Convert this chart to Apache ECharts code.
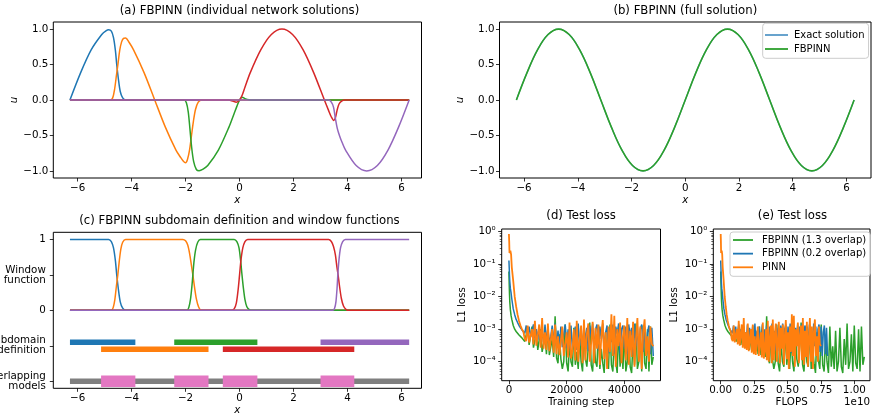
<!DOCTYPE html>
<html><head><meta charset="utf-8">
<script src="https://cdn.jsdelivr.net/npm/echarts@6/dist/echarts.min.js"></script>
<style>html,body{margin:0;padding:0;background:#fff}#c{width:875px;height:416px}</style>
</head><body><div id="c"></div>
<script>
// ---------- (b) full solution ----------
const sineX = [-6.283,-5.890,-5.498,-5.105,-4.712,-4.320,-3.927,-3.534,-3.142,-2.749,-2.356,-1.963,-1.571,-1.178,-0.785,-0.393,0,0.393,0.785,1.178,1.571,1.963,2.356,2.749,3.142,3.534,3.927,4.320,4.712,5.105,5.498,5.890,6.283];
const exactU = [0,0.383,0.707,0.924,1,0.924,0.707,0.383,0,-0.383,-0.707,-0.924,-1,-0.924,-0.707,-0.383,0,0.383,0.707,0.924,1,0.924,0.707,0.383,0,-0.383,-0.707,-0.924,-1,-0.924,-0.707,-0.383,0];
const fbpinnU = [0,0.383,0.707,0.924,1,0.924,0.707,0.383,0,-0.383,-0.707,-0.924,-1,-0.924,-0.707,-0.383,0,0.383,0.707,0.924,1,0.924,0.707,0.383,0,-0.383,-0.707,-0.924,-1,-0.924,-0.707,-0.383,0];

// ---------- (a) individual network solutions [x, u] ----------
const netBlue = [[-6.283,0],[-5.890,0.383],[-5.498,0.707],[-5.105,0.924],[-4.95,0.975],[-4.85,0.99],[-4.75,0.97],[-4.67,0.88],[-4.6,0.7],[-4.55,0.5],[-4.49,0.3],[-4.42,0.12],[-4.33,0.03],[-4.22,0],[6.283,0]];
const netOrange = [[-6.283,0],[-4.78,0],[-4.7,0.03],[-4.63,0.15],[-4.56,0.35],[-4.5,0.52],[-4.44,0.7],[-4.37,0.82],[-4.3,0.87],[-4.22,0.875],[-4.1,0.818],[-3.927,0.707],[-3.534,0.383],[-3.142,0],[-2.749,-0.383],[-2.356,-0.707],[-2.2,-0.8],[-2.08,-0.865],[-2.0,-0.885],[-1.93,-0.84],[-1.85,-0.7],[-1.78,-0.5],[-1.71,-0.3],[-1.63,-0.13],[-1.53,-0.03],[-1.4,0],[6.283,0]];
const netGreen = [[-6.283,0],[-2.05,0],[-1.97,-0.04],[-1.9,-0.17],[-1.84,-0.4],[-1.78,-0.65],[-1.7,-0.87],[-1.6,-0.98],[-1.5,-0.997],[-1.35,-0.975],[-1.178,-0.924],[-0.785,-0.707],[-0.393,-0.383],[-0.2,-0.19],[-0.1,-0.09],[0,0],[0.1,0.04],[0.2,0.02],[0.35,0.003],[0.5,0],[6.283,0]];
const netRed = [[-6.283,0],[-0.4,0],[-0.25,-0.015],[-0.12,-0.03],[0,0],[0.1,0.07],[0.2,0.18],[0.393,0.383],[0.785,0.707],[1.178,0.924],[1.571,1],[1.963,0.924],[2.356,0.707],[2.749,0.383],[3.142,0],[3.3,-0.15],[3.4,-0.24],[3.49,-0.288],[3.55,-0.25],[3.61,-0.15],[3.68,-0.06],[3.78,-0.015],[3.9,0],[6.283,0]];
const netPurple = [[-6.283,0],[3.3,0],[3.4,-0.03],[3.48,-0.1],[3.55,-0.26],[3.62,-0.4],[3.7,-0.5],[3.8,-0.6],[3.927,-0.707],[4.320,-0.924],[4.712,-1],[5.105,-0.924],[5.498,-0.707],[5.890,-0.383],[6.283,0]];

// ---------- (c) window functions [x, w] ----------
const winBlue = [[-6.283,1],[-4.85,1],[-4.75,0.97],[-4.67,0.88],[-4.6,0.7],[-4.55,0.5],[-4.49,0.3],[-4.42,0.12],[-4.33,0.03],[-4.22,0],[6.283,0]];
const winOrange = [[-6.283,0],[-4.75,0],[-4.68,0.04],[-4.62,0.15],[-4.56,0.35],[-4.51,0.5],[-4.46,0.68],[-4.4,0.86],[-4.33,0.96],[-4.22,1],[-2.1,1],[-2.0,0.98],[-1.92,0.92],[-1.85,0.8],[-1.79,0.65],[-1.73,0.5],[-1.67,0.33],[-1.6,0.16],[-1.52,0.05],[-1.42,0],[6.283,0]];
const winGreen = [[-6.283,0],[-1.95,0],[-1.88,0.04],[-1.82,0.15],[-1.77,0.32],[-1.73,0.5],[-1.69,0.68],[-1.63,0.85],[-1.55,0.96],[-1.45,1],[-0.2,1],[-0.1,0.97],[-0.02,0.88],[0.04,0.7],[0.09,0.5],[0.14,0.32],[0.2,0.15],[0.27,0.05],[0.36,0.01],[0.45,0],[6.283,0]];
const winRed = [[-6.283,0],[-0.3,0],[-0.2,0.02],[-0.12,0.1],[-0.05,0.3],[0,0.5],[0.05,0.7],[0.12,0.88],[0.2,0.97],[0.3,1],[3.3,1],[3.4,0.97],[3.48,0.9],[3.55,0.78],[3.61,0.6],[3.65,0.5],[3.7,0.35],[3.77,0.17],[3.85,0.06],[3.95,0.01],[4.05,0],[6.283,0]];
const winPurple = [[-6.283,0],[3.45,0],[3.52,0.03],[3.57,0.12],[3.61,0.3],[3.64,0.5],[3.68,0.7],[3.74,0.88],[3.82,0.97],[3.92,1],[6.283,1]];
const subdomains = [[-6.283,-3.86],[-5.13,-1.15],[-2.42,0.66],[-0.62,4.25],[3.0,6.283]];
const overlaps = [[-5.13,-3.86],[-2.42,-1.15],[-0.62,0.66],[3.0,4.25]];
const fullDomain = [-6.283,6.283];

// ---------- (d)/(e) test loss ----------
const steps = [0,100,200,300,500,750,1000,1500,2000,2500,3000,3500,4000,4500,5000,
5500,6000,6500,7000,7500,8000,8500,9000,9500,10000,
10500,11000,11500,12000,12500,13000,13500,14000,14500,15000,
15500,16000,16500,17000,17500,18000,18500,19000,19500,20000,
20500,21000,21500,22000,22500,23000,23500,24000,24500,25000,
25500,26000,26500,27000,27500,28000,28500,29000,29500,30000,
30500,31000,31500,32000,32500,33000,33500,34000,34500,35000,
35500,36000,36500,37000,37500,38000,38500,39000,39500,40000,
40500,41000,41500,42000,42500,43000,43500,44000,44500,45000,
45500,46000,46500,47000,47500,48000,48500,49000,49500,50000];
const lossFbpinn13 = [0.06,0.025,0.012,0.007,0.004,0.0026,0.002,0.0013,0.001,0.00085,0.00075,0.00066,0.0006,0.00054,0.00048,
4.2e-4,3.8e-4,1.1e-3,3.3e-4,3.0e-4,1.2e-3,2.7e-4,2.5e-4,8e-4,2.3e-4,
2.2e-4,1.0e-3,2.0e-4,1.9e-4,6e-4,1.7e-4,1.2e-3,1.6e-4,1.5e-4,5e-4,
1.4e-4,2.5e-3,1.3e-4,9e-5,7e-4,1.2e-4,6e-5,1.0e-4,1.4e-3,9e-5,
5e-5,4e-4,1.0e-4,7e-5,1.1e-3,8e-5,2.0e-4,6e-5,6e-4,1.0e-4,
5e-5,9e-4,1.2e-4,7e-5,3e-4,1.6e-3,8e-5,5e-5,5e-4,1.0e-4,
7e-5,1.3e-3,6e-5,2.5e-4,9e-5,4.5e-5,8e-4,1.1e-4,6e-5,1.4e-3,
8e-5,5e-5,6e-4,1.0e-4,4.5e-5,1.2e-3,7e-5,3e-4,6e-5,9e-4,
5e-5,1.0e-4,1.1e-3,7e-5,4.5e-5,5e-4,8e-5,1.5e-3,6e-5,1.0e-4,
7e-4,5e-5,1.3e-3,9e-5,6e-5,1.0e-3,5e-5,1.2e-3,8e-5,1.4e-4];
const lossFbpinn02 = [0.13,0.08,0.045,0.03,0.018,0.013,0.0085,0.0042,0.0028,0.002,0.0016,0.0013,0.0011,0.00095,0.00085,
7.5e-4,1.3e-3,6.5e-4,1.2e-3,5.8e-4,6e-4,1.4e-3,5.2e-4,1.0e-3,4.8e-4,
1.3e-3,4.4e-4,8e-4,4.1e-4,1.4e-3,3.8e-4,1.1e-3,3.6e-4,6e-4,1.3e-3,
3.3e-4,1.5e-3,3.1e-4,9e-4,2.9e-4,1.2e-3,2.8e-4,7e-4,1.4e-3,2.6e-4,
1.0e-3,2.5e-4,1.3e-3,2.4e-4,6e-4,1.2e-3,2.3e-4,1.5e-3,3e-4,9e-4,
2.2e-4,1.4e-3,4e-4,1.1e-3,2.1e-4,1.3e-3,6e-4,1.5e-3,2.0e-4,1.0e-3,
1.4e-3,2.2e-4,1.2e-3,5e-4,1.5e-3,1.9e-4,8e-4,1.3e-3,1.8e-4,1.1e-3,
4e-4,1.4e-3,1.8e-4,1.2e-3,7e-4,1.5e-3,1.7e-4,1.0e-3,1.3e-3,2.5e-4,
1.2e-3,1.7e-4,1.4e-3,6e-4,1.1e-3,1.6e-4,1.5e-3,3e-4,1.2e-3,1.6e-4,
1.0e-3,1.4e-3,2e-4,1.2e-3,1.5e-4,8e-4,1.3e-3,1.7e-4,1.1e-3,1.5e-4];
const lossPinn = [0.85,0.5,0.22,0.2,0.26,0.2,0.08,0.03,0.01,0.005,0.0028,0.0018,0.0013,0.001,0.00085,
5e-4,4.3e-4,1.3e-3,3.9e-4,3.7e-4,1.0e-3,3.4e-4,1.8e-3,3.1e-4,3.0e-4,
1.4e-3,2.7e-4,2.2e-3,2.5e-4,8e-4,2.3e-4,1.5e-3,2.1e-4,2.0e-4,1.0e-3,
1.9e-4,1.4e-3,1.7e-4,6e-4,1.6e-4,1.55e-4,1.2e-3,1.5e-4,1.45e-4,8e-4,
1.35e-4,1.6e-3,1.25e-4,2.2e-4,1.0e-3,1.1e-4,1.8e-3,1.0e-4,5e-4,1.3e-3,
9e-5,2.0e-3,1.1e-4,7e-4,1.5e-3,1.0e-4,4e-4,1.7e-3,9e-5,1.1e-3,
2.5e-4,1.4e-3,8e-5,6e-4,1.9e-3,1.2e-4,8e-4,6e-5,1.2e-3,2.0e-4,
2.9e-3,1.5e-4,2.6e-3,7e-5,1.0e-3,3e-4,1.6e-3,9e-5,6e-4,1.3e-3,
1.1e-4,2.2e-3,8e-5,9e-4,1.4e-4,1.7e-3,7e-5,5e-4,2.2e-3,1.0e-4,
1.2e-3,6e-5,8e-4,2.0e-3,1.5e-4,6e-4,1.0e-4,1.2e-3,3.5e-4,3.0e-4];
const totalSteps = 50000;
const finalFlops = {fb13: 1.075e10, fb02: 0.80e10, pinn: 0.75e10};

[lossFbpinn13, lossFbpinn02, lossPinn].forEach((a, i) => { if (a.length !== steps.length) throw new Error('length mismatch ' + i + ': ' + a.length); });

// ---------- styling ----------
const F = 'DejaVu Sans';
const FS = 10.3;
const C = {blue:'#1f77b4', orange:'#ff7f0e', green:'#2ca02c', red:'#d62728', purple:'#9467bd', gray:'#7f7f7f', pink:'#e377c2'};
const minus = s => String(s).replace('-', '\u2212');
const grids = [
  {left:53.3, top:22, width:368.2, height:156},
  {left:499.5, top:22, width:371.5, height:156},
  {left:53.3, top:232.3, width:368.2, height:156},
  {left:501.7, top:229, width:158.8, height:151.7},
  {left:713.3, top:229, width:156.7, height:151.7}
].map(g => Object.assign(g, {show:true, borderColor:'#000', borderWidth:1, backgroundColor:'transparent', containLabel:false, outerBoundsMode:'none'}));

function ax(opt) {
  return Object.assign({
    type:'value', scale:false,
    axisLine:{show:false, onZero:false}, splitLine:{show:false},
    axisTick:{show:true, inside:false, length:3.5, lineStyle:{color:'#000', width:0.8}, customValues: opt.ticks},
    axisLabel:{show:true, customValues: opt.ticks, formatter: opt.fmt, color:'#000', fontSize:FS, fontFamily:F, margin: opt.margin != null ? opt.margin : 5},
    nameLocation:'middle', nameTextStyle:{color:'#000', fontSize:FS, fontFamily:F, fontStyle: opt.italic ? 'italic' : 'normal'}
  }, opt.extra);
}
const xTicksPi = [-6,-4,-2,0,2,4,6];
const uTicks = [-1,-0.5,0,0.5,1];
const logTicks = [-4,-3,-2,-1,0];
const sup = {'-':'\u207B','0':'\u2070','1':'\u00B9','2':'\u00B2','3':'\u00B3','4':'\u2074'};
const logFmt = v => '10' + String(Math.round(v)).split('').map(c => sup[c]).join('');
const minorLog = [];
for (let n = -5; n <= 0; n++) for (let k = 2; k <= 9; k++) { const v = n + Math.log10(k); if (v > -4.585 && v < 0.083) minorLog.push(v); }
const cLabels = {'1':'1', '0.5':'Window\nfunction', '0':'0', '-0.5':'Subdomain\ndefinition', '-1':'Overlapping\nmodels'};

const xAxis = [
  ax({ticks:xTicksPi, fmt:minus, italic:true, extra:{gridIndex:0, min:-6.9, max:6.74, name:'x', nameGap:17}}),
  ax({ticks:xTicksPi, fmt:minus, italic:true, extra:{gridIndex:1, min:-6.912, max:6.912, name:'x', nameGap:17}}),
  ax({ticks:xTicksPi, fmt:minus, italic:true, extra:{gridIndex:2, min:-6.9, max:6.74, name:'x', nameGap:17}}),
  ax({ticks:[0,20000,40000], fmt:v=>String(v), extra:{gridIndex:3, min:-2500, max:52500, name:'Training step', nameGap:17}}),
  ax({ticks:[0,0.25e10,0.5e10,0.75e10,1e10], fmt:v=>(v/1e10).toFixed(2), extra:{gridIndex:4, min:-0.0554e10, max:1.1175e10, name:'FLOPS', nameGap:17}})
];
const minorAx = gi => ({type:'value', gridIndex:gi, min:-4.585, max:0.083, position:'left', axisLine:{show:false, onZero:false}, splitLine:{show:false}, axisLabel:{show:false},
   axisTick:{show:true, inside:false, length:2, lineStyle:{color:'#000', width:0.6}, customValues:minorLog}});
const yAxis = [
  ax({ticks:uTicks, fmt:v=>minus(v.toFixed(1)), italic:true, margin:5, extra:{gridIndex:0, min:-1.1, max:1.1, name:'u', nameGap:34}}),
  ax({ticks:uTicks, fmt:v=>minus(v.toFixed(1)), italic:true, margin:5, extra:{gridIndex:1, min:-1.1, max:1.1, name:'u', nameGap:34}}),
  ax({ticks:uTicks, fmt:v=>cLabels[String(v)], margin:7.5, extra:{gridIndex:2, min:-1.1, max:1.1}}),
  ax({ticks:logTicks, fmt:logFmt, margin:6, extra:{gridIndex:3, min:-4.585, max:0.083, name:'L1 loss', nameGap:34}}),
  ax({ticks:logTicks, fmt:logFmt, margin:6, extra:{gridIndex:4, min:-4.585, max:0.083, name:'L1 loss', nameGap:34}}),
  minorAx(3), minorAx(4)
];

function line(name, xi, yi, data, color, width, extra) {
  return Object.assign({type:'line', name, xAxisIndex:xi, yAxisIndex:yi, data, color, symbol:'none', showSymbol:false,
    lineStyle:{color, width: width || 1.5}, itemStyle:{color}, silent:true, animation:false, clip:true}, extra || {});
}
const series = [];
// (a)
[['a1',netBlue,C.blue],['a2',netOrange,C.orange],['a3',netGreen,C.green],['a4',netRed,C.red],['a5',netPurple,C.purple]]
  .forEach(([n,d,c]) => series.push(line(n,0,0,d,c,1.5,{smooth:0.3})));
// (b)
series.push(line('Exact solution',1,1,sineX.map((x,i)=>[x,exactU[i]]),'rgba(31,119,180,0.75)',1.3,{smooth:0.4}));
series.push(line('FBPINN',1,1,sineX.map((x,i)=>[x,fbpinnU[i]]),C.green,1.6,{smooth:0.4}));
// (c)
[['c1',winBlue,C.blue],['c2',winOrange,C.orange],['c3',winGreen,C.green],['c4',winRed,C.red],['c5',winPurple,C.purple]]
  .forEach(([n,d,c]) => series.push(line(n,2,2,d,c,1.5,{smooth:0.25})));
const subColors = [C.blue,C.orange,C.green,C.red,C.purple];
subdomains.forEach((s,i) => series.push(line('sd'+i,2,2,[[s[0], i%2 ? -0.55 : -0.45],[s[1], i%2 ? -0.55 : -0.45]],subColors[i],5.5)));
series.push(line('full',2,2,[[fullDomain[0],-1],[fullDomain[1],-1]],C.gray,5.5));
overlaps.forEach((s,i) => series.push(line('ov'+i,2,2,[[s[0],-1],[s[1],-1]],C.pink,11.5)));
// (d) and (e)
const lossSets = [['FBPINN (1.3 overlap)',lossFbpinn13,C.green,1.5,finalFlops.fb13],['FBPINN (0.2 overlap)',lossFbpinn02,C.blue,1.5,finalFlops.fb02],['PINN',lossPinn,C.orange,1.8,finalFlops.pinn]];
lossSets.forEach(([n,l,c,w]) => series.push(line(n,3,3,steps.map((s,i)=>[s,Math.log10(l[i])]),c,w)));
lossSets.forEach(([n,l,c,w,ff]) => series.push(line(n,4,4,steps.map((s,i)=>[s/totalSteps*ff,Math.log10(l[i])]),c,w)));

const tStyle = {fontSize:11.7, fontWeight:'normal', color:'#000', fontFamily:F};
const title = [
  {text:'(a) FBPINN (individual network solutions)', left:239.5, top:5},
  {text:'(b) FBPINN (full solution)', left:685.3, top:5},
  {text:'(c) FBPINN subdomain definition and window functions', left:239.5, top:214.7},
  {text:'(d) Test loss', left:581.1, top:209.7},
  {text:'(e) Test loss', left:792.5, top:209.7}
].map(t => Object.assign(t, {textAlign:'center', padding:0, textStyle:tStyle}));

const legendBase = {orient:'vertical', icon:'rect', itemHeight:1.8, selectedMode:false, borderColor:'#cccccc', borderWidth:1, borderRadius:3,
  backgroundColor:'rgba(255,255,255,0.8)', textStyle:{fontSize:10, color:'#000', fontFamily:F, lineHeight:12}};
const legend = [
  Object.assign({}, legendBase, {left:762.7, top:23.3, padding:[5.7,4,3.3,2.3], itemGap:2, itemWidth:23,
    textStyle:Object.assign({}, legendBase.textStyle, {padding:[0,0,0,1]}),
    data:[{name:'Exact solution', itemStyle:{color:'rgba(31,119,180,0.75)'}}, {name:'FBPINN'}]}),
  Object.assign({}, legendBase, {left:730, top:232, padding:[2,4,3,3], itemGap:1.65, itemWidth:20,
    textStyle:Object.assign({}, legendBase.textStyle, {padding:[0,0,0,4]}),
    data:['FBPINN (1.3 overlap)','FBPINN (0.2 overlap)','PINN']})
];

const chart = echarts.init(document.getElementById('c'), null, {renderer:'canvas', width:875, height:416});
chart.setOption({
  animation:false, backgroundColor:'#fff', textStyle:{fontFamily:F},
  title, legend, grid:grids, xAxis, yAxis, series,
  graphic:[{type:'text', right:5, top:397, style:{text:'1e10', font:'10.3px "DejaVu Sans"', fill:'#000'}}]
});
</script></body></html>
